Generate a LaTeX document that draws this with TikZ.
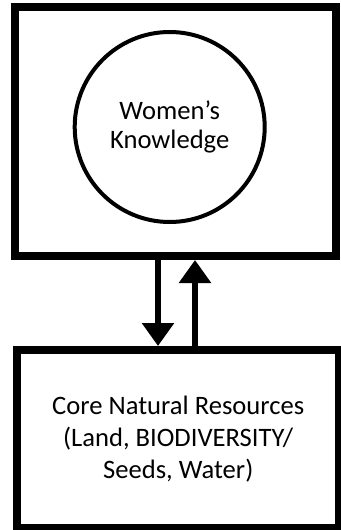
\documentclass[tikz,border=0pt]{standalone}
\usepackage{fontspec}
\setmainfont{Carlito}
\usetikzlibrary{arrows.meta}

\begin{document}
\begin{tikzpicture}[x=1pt, y=-1pt,
    box/.style={draw, line width=8pt, rectangle, inner sep=0pt},
    flow/.style={line width=6pt, -{Triangle[width=31pt,length=23pt]}}]
    \useasboundingbox (0,0) rectangle (340,530);
    \fontsize{26.6}{32}\selectfont
    % knowledge box and circle
    \node[box, minimum width=321pt, minimum height=249pt] (knowbox) at (175.5,131.5) {};
    \node[draw, circle, line width=4pt, minimum size=190pt, align=center,
      font=\fontsize{26.6}{29}\selectfont] (knowcirc) at (169.7,127)
    {Women's\\Knowledge};
    % resources box
    \node[box, minimum width=321.5pt, minimum height=178pt, align=center] (resbox) at (178.2,439)
    {Core Natural Resources\\(Land, BIODIVERSITY/\\Seeds, Water)};
    % arrow positions
    \coordinate (down) at (158,0);
    \coordinate (up)   at (195,0);
    % draw arrows
    \draw [flow] (knowbox.south -| down) -- (resbox.north -| down);
    \draw [flow] (resbox.north -| up) -- (knowbox.south -| up);
  \end{tikzpicture}
\end{document}
